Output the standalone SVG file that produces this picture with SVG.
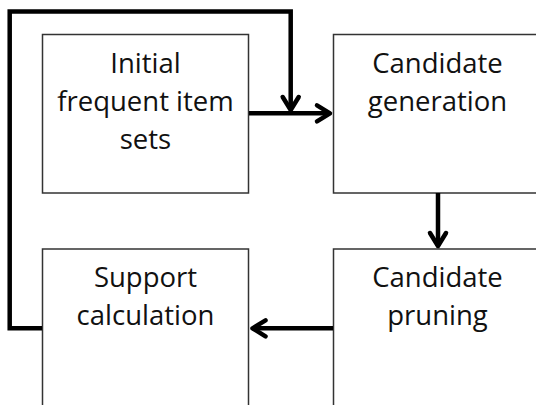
<svg xmlns="http://www.w3.org/2000/svg" width="536" height="405" viewBox="0 0 536 405">
<style>
.box{fill:#fff;stroke:#333;stroke-width:1.5}
.lbl{font-family:"Open Sans","Noto Sans","Liberation Sans",sans-serif;font-size:27.5px;fill:#111;text-anchor:middle}
.con{fill:none;stroke:#000;stroke-width:4.5;stroke-linejoin:miter;stroke-linecap:butt}
</style>
<defs>
<marker id="arr" markerUnits="userSpaceOnUse" markerWidth="30" markerHeight="30" refX="0" refY="0" orient="auto" overflow="visible" viewBox="-20 -15 30 30">
<path d="M-13,-8 L0,0 L-13,8" fill="none" stroke="#000" stroke-width="4.5" stroke-linejoin="round" stroke-linecap="round"/>
</marker>
</defs>
<rect width="536" height="405" fill="#fff"/>
<g id="initial">
<rect class="box" x="42.5" y="34.5" width="206" height="158.5"/>
<text class="lbl" x="145.5" y="72.7">Initial</text>
<text class="lbl" x="145.5" y="110.7">frequent item</text>
<text class="lbl" x="145.5" y="148.5">sets</text>
</g>
<g id="generation">
<rect class="box" x="333.5" y="34.5" width="230" height="158.5"/>
<text class="lbl" x="437.5" y="72.7">Candidate</text>
<text class="lbl" x="437.5" y="110.7">generation</text>
</g>
<g id="support">
<rect class="box" x="42.5" y="249" width="206" height="170"/>
<text class="lbl" x="145.5" y="287">Support</text>
<text class="lbl" x="145.5" y="325">calculation</text>
</g>
<g id="pruning">
<rect class="box" x="333.5" y="249" width="230" height="170"/>
<text class="lbl" x="437.5" y="287">Candidate</text>
<text class="lbl" x="437.5" y="325">pruning</text>
</g>
<g id="connectors">
<path class="con" d="M249,113.3 L330,113.3" marker-end="url(#arr)"/>
<path class="con" d="M438,193 L438,246" marker-end="url(#arr)"/>
<path class="con" d="M333,328.3 L252.5,328.3" marker-end="url(#arr)"/>
<path class="con" d="M42,328.3 L9.7,328.3 L9.7,11.5 L290.7,11.5 L290.7,110" marker-end="url(#arr)"/>
</g>
</svg>
